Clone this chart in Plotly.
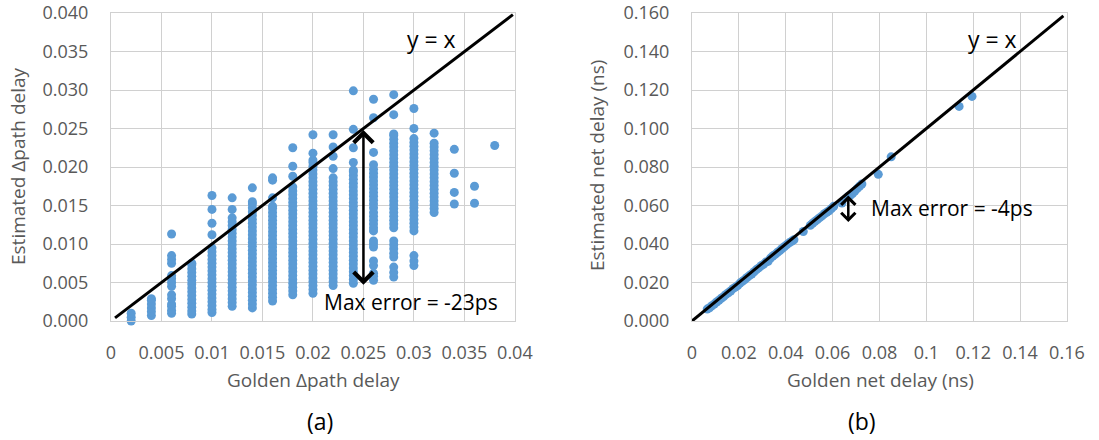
import plotly.graph_objects as go

# ---------------- (a) Golden vs estimated delta-path delay ----------------
golden_cols_a = [0.002, 0.004, 0.006, 0.008, 0.010, 0.012, 0.014, 0.016, 0.018, 0.020,
                 0.022, 0.024, 0.026, 0.028, 0.030, 0.032, 0.034, 0.036, 0.038]

est_002 = [0.0000, 0.0005, 0.0010]
est_004 = [0.0007, 0.0012, 0.0017, 0.0022, 0.0027, 0.0029]
est_006 = [0.0010, 0.0014, 0.0019, 0.0022, 0.0029, 0.0034, 0.0045, 0.0050, 0.0055, 0.0059,
           0.0075, 0.0080, 0.0085, 0.0113]
est_008 = [0.0009, 0.0013, 0.0018, 0.0023, 0.0028, 0.0033, 0.0038, 0.0043, 0.0048, 0.0053,
           0.0058, 0.0063, 0.0068, 0.0073, 0.0075]
est_010 = [0.0011, 0.0015, 0.0020, 0.0025, 0.0030, 0.0035, 0.0040, 0.0045, 0.0050, 0.0055,
           0.0060, 0.0065, 0.0070, 0.0075, 0.0080, 0.0085, 0.0090, 0.0095, 0.0112, 0.0127,
           0.0145, 0.0163]
est_012 = [0.0019, 0.0024, 0.0029, 0.0034, 0.0039, 0.0044, 0.0049, 0.0054, 0.0059, 0.0064,
           0.0069, 0.0074, 0.0079, 0.0084, 0.0089, 0.0094, 0.0099, 0.0104, 0.0109, 0.0114,
           0.0119, 0.0124, 0.0129, 0.0134, 0.0145, 0.0160]
est_014 = [0.0017, 0.0022, 0.0027, 0.0032, 0.0037, 0.0042, 0.0047, 0.0052, 0.0057, 0.0062,
           0.0067, 0.0072, 0.0077, 0.0082, 0.0087, 0.0092, 0.0097, 0.0102, 0.0107, 0.0112,
           0.0117, 0.0122, 0.0127, 0.0132, 0.0137, 0.0142, 0.0147, 0.0152, 0.0155, 0.0173]
est_016 = [0.0026, 0.0031, 0.0036, 0.0041, 0.0046, 0.0051, 0.0056, 0.0061, 0.0066, 0.0071,
           0.0076, 0.0081, 0.0086, 0.0091, 0.0096, 0.0101, 0.0106, 0.0111, 0.0116, 0.0121,
           0.0126, 0.0131, 0.0136, 0.0141, 0.0146, 0.0149, 0.0160, 0.0183, 0.0186]
est_018 = [0.0034, 0.0039, 0.0044, 0.0049, 0.0054, 0.0059, 0.0064, 0.0069, 0.0074, 0.0079,
           0.0084, 0.0089, 0.0094, 0.0099, 0.0104, 0.0109, 0.0114, 0.0119, 0.0124, 0.0129,
           0.0134, 0.0139, 0.0144, 0.0149, 0.0154, 0.0159, 0.0164, 0.0169, 0.0174, 0.0188,
           0.0201, 0.0225]
est_020 = [0.0036, 0.0041, 0.0046, 0.0051, 0.0056, 0.0061, 0.0066, 0.0071, 0.0076, 0.0081,
           0.0086, 0.0091, 0.0096, 0.0101, 0.0106, 0.0111, 0.0116, 0.0121, 0.0126, 0.0131,
           0.0136, 0.0141, 0.0146, 0.0151, 0.0156, 0.0161, 0.0166, 0.0171, 0.0176, 0.0181,
           0.0186, 0.0191, 0.0196, 0.0201, 0.0206, 0.0209, 0.0218, 0.0242]
est_022 = [0.0046, 0.0051, 0.0056, 0.0061, 0.0066, 0.0071, 0.0076, 0.0081, 0.0086, 0.0091,
           0.0096, 0.0101, 0.0106, 0.0111, 0.0116, 0.0121, 0.0126, 0.0131, 0.0136, 0.0141,
           0.0146, 0.0151, 0.0156, 0.0161, 0.0166, 0.0171, 0.0176, 0.0181, 0.0186, 0.0198,
           0.0214, 0.0226, 0.0242]
est_024 = [0.0049, 0.0054, 0.0059, 0.0064, 0.0069, 0.0074, 0.0079, 0.0084, 0.0089, 0.0094,
           0.0099, 0.0104, 0.0109, 0.0114, 0.0119, 0.0124, 0.0129, 0.0134, 0.0139, 0.0144,
           0.0149, 0.0154, 0.0159, 0.0164, 0.0169, 0.0174, 0.0179, 0.0184, 0.0189, 0.0194,
           0.0196, 0.0206, 0.0225, 0.0249, 0.0299]
est_026 = [0.0053, 0.0058, 0.0062, 0.0072, 0.0078, 0.0096, 0.0100, 0.0104, 0.0117, 0.0121,
           0.0126, 0.0131, 0.0136, 0.0141, 0.0147, 0.0152, 0.0157, 0.0162, 0.0167, 0.0172,
           0.0177, 0.0182, 0.0187, 0.0192, 0.0197, 0.0203, 0.0219, 0.0264, 0.0288]
est_028 = [0.0057, 0.0063, 0.0070, 0.0083, 0.0088, 0.0094, 0.0099, 0.0104, 0.0121, 0.0126,
           0.0131, 0.0136, 0.0141, 0.0146, 0.0151, 0.0156, 0.0161, 0.0166, 0.0171, 0.0176,
           0.0181, 0.0186, 0.0191, 0.0196, 0.0201, 0.0206, 0.0211, 0.0216, 0.0221, 0.0226,
           0.0231, 0.0236, 0.0241, 0.0243, 0.0268, 0.0294]
est_030 = [0.0072, 0.0078, 0.0085, 0.0117, 0.0122, 0.0127, 0.0132, 0.0137, 0.0142, 0.0147,
           0.0152, 0.0157, 0.0162, 0.0167, 0.0172, 0.0177, 0.0182, 0.0187, 0.0192, 0.0197,
           0.0202, 0.0207, 0.0212, 0.0217, 0.0222, 0.0227, 0.0232, 0.0237, 0.0250, 0.0276]
est_032 = [0.0141, 0.0146, 0.0151, 0.0156, 0.0161, 0.0166, 0.0171, 0.0176, 0.0181, 0.0186,
           0.0191, 0.0196, 0.0201, 0.0206, 0.0211, 0.0216, 0.0221, 0.0226, 0.0231, 0.0244]
est_034 = [0.0152, 0.0167, 0.0192, 0.0223]
est_036 = [0.0153, 0.0175]
est_038 = [0.0228]

est_cols_a = [est_002, est_004, est_006, est_008, est_010, est_012, est_014, est_016, est_018,
              est_020, est_022, est_024, est_026, est_028, est_030, est_032, est_034, est_036,
              est_038]

identity_a = [0.0004, 0.0398]

# ---------------- (b) Golden vs estimated net delay ----------------
golden_b = [0.0065, 0.0075, 0.0085, 0.0095, 0.0105, 0.0115, 0.0125, 0.0135, 0.0145, 0.0155,
            0.0165, 0.0175, 0.0185, 0.0195, 0.0205, 0.0215, 0.0225, 0.0235, 0.0245, 0.0255,
            0.0265, 0.0275, 0.0285, 0.0295, 0.0305, 0.0315, 0.0325, 0.0335, 0.0345, 0.0355,
            0.0365, 0.0375, 0.0385, 0.0395, 0.0405, 0.0415, 0.0425, 0.0435, 0.0475, 0.0505,
            0.0515, 0.0525, 0.0535, 0.0545, 0.0555, 0.0565, 0.0575, 0.0585, 0.0595, 0.0605,
            0.0640, 0.0665, 0.0675, 0.0685, 0.0695, 0.0705, 0.0715, 0.0725, 0.0795, 0.0850,
            0.1140, 0.1195]
estimated_b = [0.0062, 0.0069, 0.0079, 0.0088, 0.0099, 0.0108, 0.0118, 0.0127, 0.0138, 0.0147,
               0.0156, 0.0168, 0.0176, 0.0184, 0.0197, 0.0206, 0.0215, 0.0226, 0.0236, 0.0244,
               0.0256, 0.0267, 0.0276, 0.0287, 0.0294, 0.0306, 0.0310, 0.0327, 0.0338, 0.0346,
               0.0357, 0.0366, 0.0377, 0.0387, 0.0397, 0.0406, 0.0414, 0.0422, 0.0465, 0.0497,
               0.0508, 0.0518, 0.0527, 0.0537, 0.0546, 0.0557, 0.0565, 0.0573, 0.0584, 0.0596,
               0.0613, 0.0645, 0.0652, 0.0662, 0.0675, 0.0688, 0.0700, 0.0712, 0.0762, 0.0853,
               0.1115, 0.1167]

identity_b = [0.0, 0.1585]

ticks_a = [0, 0.005, 0.01, 0.015, 0.02, 0.025, 0.03, 0.035, 0.04]
ticktext_ax = ["0", "0.005", "0.01", "0.015", "0.02", "0.025", "0.03", "0.035", "0.04"]
ticktext_ay = ["0.000", "0.005", "0.010", "0.015", "0.020", "0.025", "0.030", "0.035", "0.040"]
ticks_b = [0, 0.02, 0.04, 0.06, 0.08, 0.10, 0.12, 0.14, 0.16]
ticktext_bx = ["0", "0.02", "0.04", "0.06", "0.08", "0.1", "0.12", "0.14", "0.16"]
ticktext_by = ["0.000", "0.020", "0.040", "0.060", "0.080", "0.100", "0.120", "0.140", "0.160"]

# ---------------- figure ----------------
W, H = 1099, 440
FONT = "Open Sans"
BLUE = "#5b9bd5"
GRID = "#d0d0d0"
TICKC = "#595959"
MSIZE = 9


def px(xp, yp):
    return xp / W, 1 - yp / H


xa, ya = [], []
for gx, col in zip(golden_cols_a, est_cols_a):
    for v in col:
        xa.append(gx)
        ya.append(v)

fig = go.Figure()
fig.add_trace(go.Scatter(x=xa, y=ya, mode="markers", xaxis="x", yaxis="y",
                         marker=dict(color=BLUE, size=MSIZE), cliponaxis=False, showlegend=False))
fig.add_trace(go.Scatter(x=identity_a, y=identity_a, mode="lines", xaxis="x", yaxis="y",
                         line=dict(color="black", width=3), showlegend=False))
fig.add_trace(go.Scatter(x=golden_b, y=estimated_b, mode="markers", xaxis="x2", yaxis="y2",
                         marker=dict(color=BLUE, size=MSIZE), cliponaxis=False, showlegend=False))
fig.add_trace(go.Scatter(x=identity_b, y=identity_b, mode="lines", xaxis="x2", yaxis="y2",
                         line=dict(color="black", width=3), showlegend=False))

axis_common = dict(showgrid=True, gridcolor=GRID, gridwidth=1, zeroline=False,
                   showline=True, linecolor=GRID, linewidth=1, mirror=True,
                   ticks="", tickfont=dict(family=FONT, size=18, color=TICKC),
                   fixedrange=True, automargin=False, ticklabeloverflow="allow")

ydom = [1 - 321 / H, 1 - 13 / H]
fig.update_layout(
    template="none",
    width=W, height=H,
    margin=dict(l=0, r=0, t=0, b=0),
    paper_bgcolor="white", plot_bgcolor="white",
    font=dict(family=FONT),
    xaxis=dict(domain=[111 / W, 515 / W], range=[0, 0.04001], tickvals=ticks_a,
               ticktext=ticktext_ax, anchor="y", ticklabelstandoff=15, **axis_common),
    yaxis=dict(domain=ydom, range=[0, 0.04001], tickvals=ticks_a, ticktext=ticktext_ay,
               anchor="x", ticklabelstandoff=18, **axis_common),
    xaxis2=dict(domain=[692 / W, 1067 / W], range=[0, 0.16004], tickvals=ticks_b,
                ticktext=ticktext_bx, anchor="y2", ticklabelstandoff=15, **axis_common),
    yaxis2=dict(domain=ydom, range=[0, 0.16004], tickvals=ticks_b, ticktext=ticktext_by,
                anchor="x2", ticklabelstandoff=18, **axis_common),
)

ann = []
title_font = dict(family=FONT, size=19, color=TICKC)
# axis titles
x0, y0 = px(313, 380)
ann.append(dict(text="Golden Δpath delay", x=x0, y=y0, xref="paper", yref="paper",
                showarrow=False, font=title_font, xanchor="center", yanchor="middle"))
x0, y0 = px(18, 166)
ann.append(dict(text="Estimated Δpath delay", x=x0, y=y0, xref="paper", yref="paper",
                showarrow=False, font=title_font, textangle=-90, xanchor="center", yanchor="middle"))
x0, y0 = px(880, 380)
ann.append(dict(text="Golden net delay (ns)", x=x0, y=y0, xref="paper", yref="paper",
                showarrow=False, font=title_font, xanchor="center", yanchor="middle"))
x0, y0 = px(597, 166)
ann.append(dict(text="Estimated net delay (ns)", x=x0, y=y0, xref="paper", yref="paper",
                showarrow=False, font=title_font, textangle=-90, xanchor="center", yanchor="middle"))
# panel labels
x0, y0 = px(320, 421)
ann.append(dict(text="(a)", x=x0, y=y0, xref="paper", yref="paper", showarrow=False,
                font=dict(family=FONT, size=23, color="black"), xanchor="center", yanchor="middle"))
x0, y0 = px(862, 421)
ann.append(dict(text="(b)", x=x0, y=y0, xref="paper", yref="paper", showarrow=False,
                font=dict(family=FONT, size=23, color="black"), xanchor="center", yanchor="middle"))
# in-plot labels
lab_font = dict(family=FONT, size=21, color="black")
yx_font = dict(family=FONT, size=23, color="black")
ann.append(dict(text="y = x", x=0.0317, y=0.0366, xref="x", yref="y", showarrow=False,
                font=yx_font, xanchor="center", yanchor="middle"))
ann.append(dict(text="y = x", x=0.1283, y=0.1463, xref="x2", yref="y2", showarrow=False,
                font=yx_font, xanchor="center", yanchor="middle"))
ann.append(dict(text="Max error = -23ps", x=0.0209, y=0.0025, xref="x", yref="y",
                showarrow=False, font=lab_font, xanchor="left", yanchor="middle"))
ann.append(dict(text="Max error = -4ps", x=0.0757, y=0.0588, xref="x2", yref="y2",
                showarrow=False, font=lab_font, xanchor="left", yanchor="middle"))
# double-headed arrows
ann.append(dict(text="", x=0.0250, y=0.0047, ax=0.0250, ay=0.0250, xref="x", yref="y",
                axref="x", ayref="y", showarrow=True, arrowhead=4, arrowside="end+start",
                arrowsize=1.5, arrowwidth=2.5, arrowcolor="black"))
ann.append(dict(text="", x=0.0667, y=0.0514, ax=0.0667, ay=0.0660, xref="x2", yref="y2",
                axref="x2", ayref="y2", showarrow=True, arrowhead=4, arrowside="end+start",
                arrowsize=1.1, arrowwidth=2.5, arrowcolor="black"))
fig.update_layout(annotations=ann)

fig.write_html(
    "out.html",
    config={"displayModeBar": False},
    post_script="document.body.style.margin='0';document.body.style.padding='0';"
                "document.body.style.overflow='hidden';",
)
